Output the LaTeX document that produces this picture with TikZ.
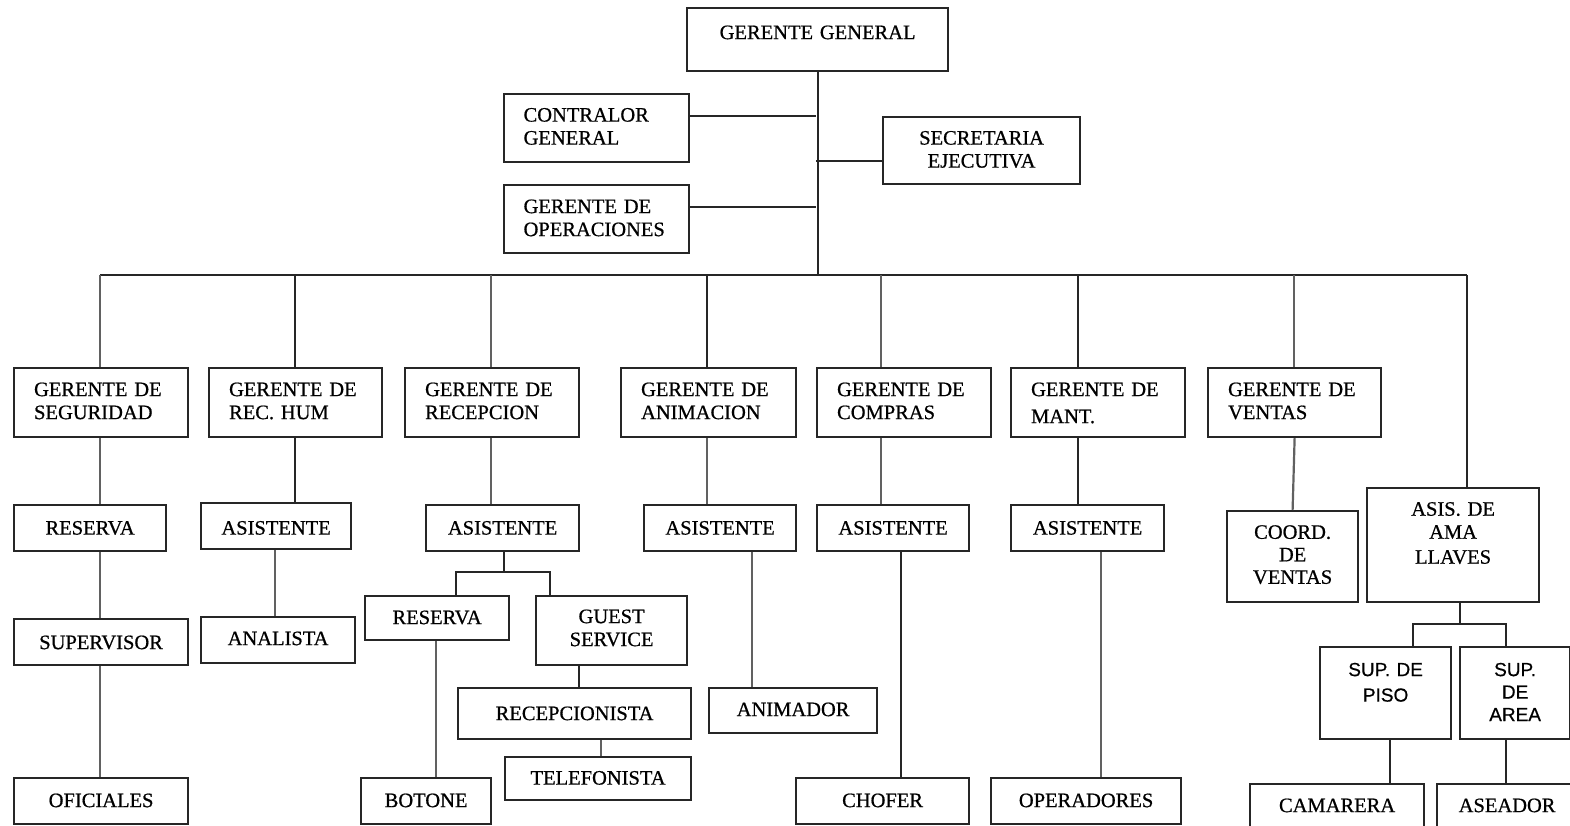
\documentclass[tikz,border=0pt]{standalone}
\usepackage{fontspec}
\setmainfont{Liberation Serif}[UprightFeatures={FakeBold=0.7}]
\setsansfont{Liberation Sans}[UprightFeatures={FakeBold=0.5}]
\begin{document}
\begin{tikzpicture}[x=1pt,y=-1pt,
  box/.style={draw=black!85, line width=2.2pt, anchor=north west, inner ysep=0pt,
    font=\fontsize{20.5}{23}\selectfont},
  % text width, side padding, first baseline from top, remaining depth
  bx/.style n args={4}{box, text width=#1, inner xsep=#2, text height=#3, text depth=#4},
  lk/.style={line width=2.2pt, draw=black!85},
  gl/.style={line width=2.2pt, draw=black!62}]
\useasboundingbox (0,0) rectangle (1570,826);
\clip (0,0) rectangle (1570,826);

% top management
\node[bx={253pt}{4pt}{31pt}{32pt}, align=center] (gg) at (686,7) {GERENTE GENERAL};
\node[bx={146pt}{19.5pt}{27.5pt}{40.5pt}, align=left] (contr) at (503,93) {CONTRALOR\\GENERAL};
\node[bx={189pt}{4pt}{27.5pt}{39.5pt}, align=center] (secr) at (882,116) {SECRETARIA\\EJECUTIVA};
\node[bx={146pt}{19.5pt}{28pt}{40pt}, align=left] (oper) at (503,184) {GERENTE DE\\OPERACIONES};

% department managers
\node[bx={134pt}{20pt}{28pt}{41pt}, align=left] (gseg) at (13,367) {GERENTE DE\\SEGURIDAD};
\node[bx={133pt}{20pt}{28pt}{41pt}, align=left] (grh) at (208,367) {GERENTE DE\\REC. HUM};
\node[bx={134pt}{20pt}{28pt}{41pt}, align=left] (grec) at (404,367) {GERENTE DE\\RECEPCION};
\node[bx={135pt}{20pt}{28pt}{41pt}, align=left] (gani) at (620,367) {GERENTE DE\\ANIMACION};
\node[bx={134pt}{20pt}{28pt}{41pt}, align=left] (gcom) at (816,367) {GERENTE DE\\COMPRAS};
\node[bx={134pt}{20pt}{28pt}{41pt}, align=left] (gman) at (1010,367) {GERENTE DE\\[4pt]MANT.};
\node[bx={133pt}{20pt}{28pt}{41pt}, align=left] (gven) at (1207,367) {GERENTE DE\\VENTAS};

% third level
\node[bx={144pt}{4pt}{29.5pt}{16.5pt}, align=center] (res1) at (13,504) {RESERVA};
\node[bx={142pt}{4pt}{31.5pt}{14.5pt}, align=center] (asrh) at (200,502) {ASISTENTE};
\node[bx={145pt}{4pt}{29.5pt}{16.5pt}, align=center] (asrec) at (425,504) {ASISTENTE};
\node[bx={144pt}{4pt}{29.5pt}{16.5pt}, align=center] (asani) at (643,504) {ASISTENTE};
\node[bx={144pt}{4pt}{29.5pt}{16.5pt}, align=center] (ascom) at (816,504) {ASISTENTE};
\node[bx={145pt}{4pt}{29.5pt}{16.5pt}, align=center] (asman) at (1010,504) {ASISTENTE};
\node[bx={123pt}{4pt}{27.7pt}{63.3pt}, align=center, font=\fontsize{20.5}{22.5}\selectfont] (coord) at (1226,510) {COORD.\\DE\\VENTAS};
\node[bx={164pt}{4pt}{27.6pt}{86.4pt}, align=center] (ama) at (1366,487) {ASIS. DE\\AMA\\[2pt]LLAVES};

% lower levels
\node[bx={166pt}{4pt}{30pt}{16pt}, align=center] (sup) at (13,618) {SUPERVISOR};
\node[bx={146pt}{4pt}{28pt}{18pt}, align=center] (anal) at (200,616) {ANALISTA};
\node[bx={136pt}{4pt}{28pt}{16pt}, align=center] (res2) at (364,595) {RESERVA};
\node[bx={143pt}{4pt}{27pt}{42pt}, align=center] (guest) at (535,595) {GUEST\\SERVICE};
\node[bx={225pt}{4pt}{32pt}{19pt}, align=center] (recp) at (457,687) {RECEPCIONISTA};
\node[bx={178pt}{4pt}{27.5pt}{15.5pt}, align=center] (tel) at (504,756) {TELEFONISTA};
\node[bx={122pt}{4pt}{29pt}{17pt}, align=center] (bot) at (360,777) {BOTONE};
\node[bx={160pt}{4pt}{28pt}{17pt}, align=center] (anim) at (708,687) {ANIMADOR};
\node[bx={165pt}{4pt}{29pt}{17pt}, align=center] (chof) at (795,777) {CHOFER};
\node[bx={182pt}{4pt}{29pt}{17pt}, align=center] (oper2) at (990,777) {OPERADORES};
\node[bx={166pt}{4pt}{29pt}{17pt}, align=center] (ofic) at (13,777) {OFICIALES};
\node[bx={123pt}{4pt}{29pt}{63pt}, align=center, font=\sffamily\fontsize{19}{22.5}\selectfont] (spiso) at (1319,646) {SUP. DE\\[3pt]PISO};
\node[bx={102pt}{4pt}{29pt}{63pt}, align=center, font=\sffamily\fontsize{19}{22.5}\selectfont] (sarea) at (1459,646) {SUP.\\DE\\AREA};
\node[bx={166pt}{4pt}{28pt}{32pt}, align=center] (cam) at (1249,783) {CAMARERA};
\node[bx={132pt}{4pt}{28pt}{32pt}, align=center] (ase) at (1436,783) {ASEADOR};

% junction points
\coordinate (jc) at (816,116);
\coordinate (js) at (816,161);
\coordinate (jo) at (816,207);
\coordinate (b1) at (100,275);
\coordinate (b2) at (295,275);
\coordinate (b3) at (491,275);
\coordinate (b4) at (707,275);
\coordinate (b5) at (881,275);
\coordinate (b6) at (1078,275);
\coordinate (b7) at (1294,275);
\coordinate (b8) at (1467,275);
\coordinate (fkL) at (456,572);
\coordinate (fkR) at (550,572);
\coordinate (fmL) at (1413,624);
\coordinate (fmR) at (1506,624);

% top connectors
\draw[lk] (gg.south) -- (gg.south |- b1);
\draw[lk] (jc -| contr.east) -- (jc);
\draw[lk] (js) -- (js -| secr.west);
\draw[lk] (jo -| oper.east) -- (jo);
\draw[lk] (b1) -- (b8);

% drops to the department managers
\draw[gl] (b1) -- (b1 |- gseg.north);
\draw[lk] (b2) -- (b2 |- grh.north);
\draw[gl] (b3) -- (b3 |- grec.north);
\draw[lk] (b4) -- (b4 |- gani.north);
\draw[gl] (b5) -- (b5 |- gcom.north);
\draw[lk] (b6) -- (b6 |- gman.north);
\draw[gl] (b7) -- (b7 |- gven.north);
\draw[lk] (b8) -- (b8 |- ama.north);

% seguridad
\draw[gl] (b1 |- gseg.south) -- (b1 |- res1.north);
\draw[gl] (b1 |- res1.south) -- (b1 |- sup.north);
\draw[gl] (b1 |- sup.south) -- (b1 |- ofic.north);

% recursos humanos
\draw[lk] (b2 |- grh.south) -- (b2 |- asrh.north);
\draw[gl] ([xshift=-1pt]asrh.south) -- ([xshift=-1pt]asrh.south |- anal.north);

% recepcion
\draw[gl] (b3 |- grec.south) -- (b3 |- asrec.north);
\draw[lk] ([xshift=1.5pt]asrec.south) -- ([xshift=1.5pt]asrec.south |- fkL);
\draw[lk] (fkL |- res2.north) -- (fkL) -- (fkR) -- (fkR |- guest.north);
\draw[gl] ([xshift=-1pt]res2.south) -- ([xshift=-1pt]res2.south |- bot.north);
\draw[lk] ([xshift=4.5pt]recp.north) -- ([xshift=4.5pt]recp.north |- guest.south);
\draw[gl] ([xshift=3pt]tel.north) -- ([xshift=3pt]tel.north |- recp.south);

% animacion, compras, mantenimiento, ventas
\draw[gl] (b4 |- gani.south) -- (b4 |- asani.north);
\draw[gl] ([xshift=32pt]asani.south) -- ([xshift=32pt]asani.south |- anim.north);
\draw[gl] (b5 |- gcom.south) -- (b5 |- ascom.north);
\draw[lk] ([xshift=8pt]ascom.south) -- ([xshift=8pt]ascom.south |- chof.north);
\draw[lk] (b6 |- gman.south) -- (b6 |- asman.north);
\draw[gl] ([xshift=13pt]asman.south) -- ([xshift=13pt]asman.south |- oper2.north);
\draw[gl] (gven.south) -- (coord.north);

% ama de llaves
\draw[lk] ([xshift=7pt]ama.south) -- ([xshift=7pt]ama.south |- fmL);
\draw[lk] (fmL |- spiso.north) -- (fmL) -- (fmR) -- (fmR |- sarea.north);
\draw[lk] ([xshift=4.5pt]spiso.south) -- ([xshift=4.5pt]spiso.south |- cam.north);
\draw[lk] (fmR |- sarea.south) -- (fmR |- ase.north);
\end{tikzpicture}
\end{document}
